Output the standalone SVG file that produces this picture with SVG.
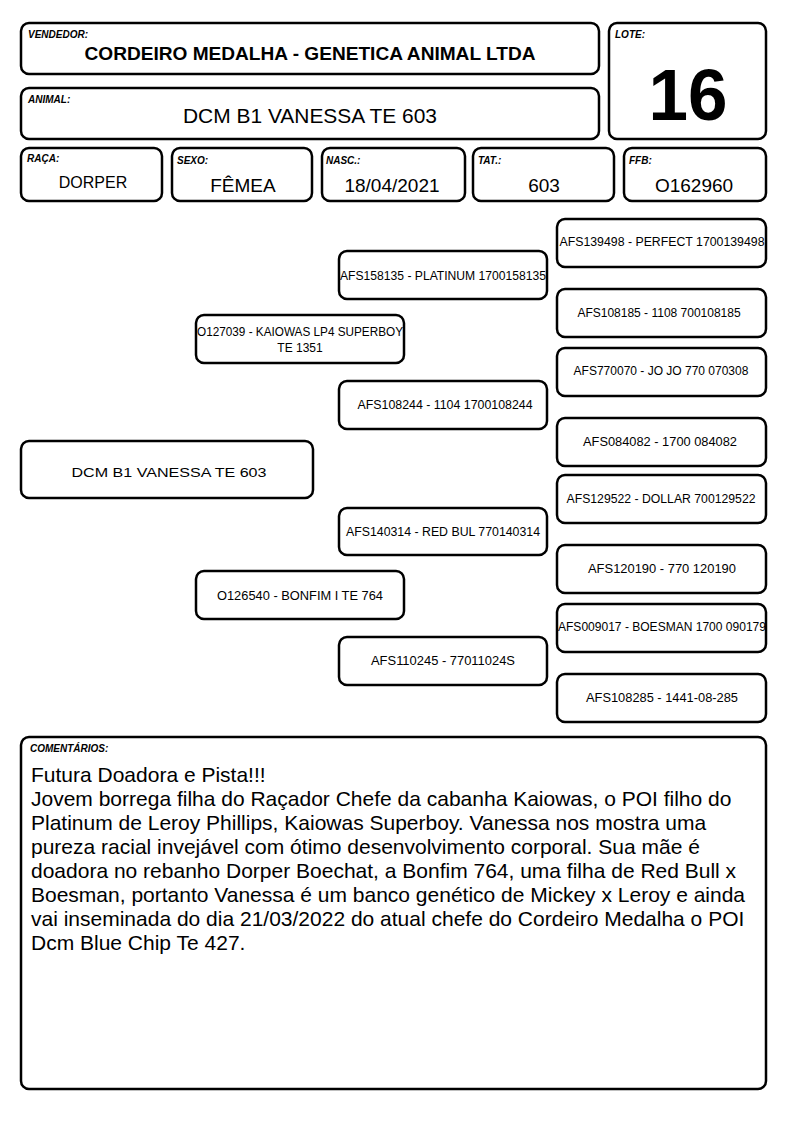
<svg xmlns="http://www.w3.org/2000/svg" width="794" height="1123" viewBox="0 0 794 1123">
<style>
rect{fill:#fff;stroke:#000;stroke-width:2.5}
text{font-family:"Liberation Sans",Arial,sans-serif;fill:#000}
.lbl{font-size:10px;font-weight:bold;font-style:italic}
.ped{font-size:12px;text-anchor:middle}
.val{text-anchor:middle}
.cm{font-size:21px}
</style>
<rect x="0" y="0" width="794" height="1123" style="fill:#fff;stroke:none"/>
<g id="vendedor"><rect x="21" y="23" width="578" height="51" rx="8"/><text class="lbl" x="28" y="38">VENDEDOR:</text><text x="310" y="60" font-size="19" font-weight="bold" text-anchor="middle" textLength="451" lengthAdjust="spacingAndGlyphs">CORDEIRO MEDALHA - GENETICA ANIMAL LTDA</text></g>
<g id="lote"><rect x="609" y="23" width="157" height="116" rx="8"/><text class="lbl" x="615" y="38">LOTE:</text><text x="688" y="120" font-size="72" font-weight="bold" text-anchor="middle" textLength="79" lengthAdjust="spacingAndGlyphs">16</text></g>
<g id="animal"><rect x="21" y="88" width="578" height="51" rx="8"/><text class="lbl" x="28" y="103">ANIMAL:</text><text x="310" y="123" font-size="21" text-anchor="middle" textLength="254" lengthAdjust="spacingAndGlyphs">DCM B1 VANESSA TE 603</text></g>
<g id="raca"><rect x="21" y="148" width="141" height="53" rx="8"/><text class="lbl" x="27" y="162">RAÇA:</text><text class="val" x="93" y="188" font-size="16">DORPER</text></g>
<g id="sexo"><rect x="172" y="148" width="140" height="53" rx="8"/><text class="lbl" x="177" y="164">SEXO:</text><text class="val" x="243" y="192" font-size="19">FÊMEA</text></g>
<g id="nasc"><rect x="322" y="148" width="143" height="53" rx="8"/><text class="lbl" x="326" y="164">NASC.:</text><text class="val" x="392" y="192" font-size="19">18/04/2021</text></g>
<g id="tat"><rect x="473" y="148" width="141" height="53" rx="8"/><text class="lbl" x="478" y="164">TAT.:</text><text class="val" x="544" y="192" font-size="19">603</text></g>
<g id="ffb"><rect x="624" y="148" width="142" height="53" rx="8"/><text class="lbl" x="629" y="164">FFB:</text><text class="val" x="694" y="192" font-size="19">O162960</text></g>

<g id="p-main"><rect x="21" y="441" width="292" height="57" rx="8"/><text class="ped" x="169" y="477" font-size="18" textLength="195" lengthAdjust="spacingAndGlyphs">DCM B1 VANESSA TE 603</text></g>
<g id="p-sire"><rect x="196" y="315" width="208" height="48" rx="8"/><text class="ped" x="300" y="336" textLength="206" lengthAdjust="spacingAndGlyphs">O127039 - KAIOWAS LP4 SUPERBOY</text><text class="ped" x="300" y="352">TE 1351</text></g>
<g id="p-ss"><rect x="339" y="251" width="208" height="48" rx="8"/><text class="ped" x="443" y="280" textLength="206" lengthAdjust="spacingAndGlyphs">AFS158135 - PLATINUM 1700158135</text></g>
<g id="p-sd"><rect x="339" y="381" width="208" height="48" rx="8"/><text class="ped" x="445" y="409" textLength="175" lengthAdjust="spacingAndGlyphs">AFS108244 - 1104 1700108244</text></g>
<g id="p-sss"><rect x="557" y="219" width="209" height="48" rx="8"/><text class="ped" x="662" y="246" textLength="205" lengthAdjust="spacingAndGlyphs">AFS139498 - PERFECT 1700139498</text></g>
<g id="p-ssd"><rect x="557" y="289" width="209" height="48" rx="8"/><text class="ped" x="659" y="317">AFS108185 - 1108 700108185</text></g>
<g id="p-sds"><rect x="557" y="348" width="209" height="48" rx="8"/><text class="ped" x="661" y="375">AFS770070 - JO JO 770 070308</text></g>
<g id="p-sdd"><rect x="557" y="418" width="209" height="48" rx="8"/><text class="ped" x="660" y="446" font-size="13" textLength="154" lengthAdjust="spacingAndGlyphs">AFS084082 - 1700 084082</text></g>
<g id="p-dam"><rect x="196" y="571" width="208" height="48" rx="8"/><text class="ped" x="300" y="600" font-size="13" textLength="166" lengthAdjust="spacingAndGlyphs">O126540 - BONFIM I TE 764</text></g>
<g id="p-ds"><rect x="339" y="508" width="208" height="47" rx="8"/><text class="ped" x="443" y="536" textLength="194" lengthAdjust="spacingAndGlyphs">AFS140314 - RED BUL 770140314</text></g>
<g id="p-dd"><rect x="339" y="637" width="208" height="48" rx="8"/><text class="ped" x="443" y="665" font-size="13" textLength="144" lengthAdjust="spacingAndGlyphs">AFS110245 - 77011024S</text></g>
<g id="p-dss"><rect x="557" y="475" width="209" height="48" rx="8"/><text class="ped" x="661" y="503" textLength="189" lengthAdjust="spacingAndGlyphs">AFS129522 - DOLLAR 700129522</text></g>
<g id="p-dsd"><rect x="557" y="545" width="209" height="48" rx="8"/><text class="ped" x="662" y="573" font-size="13" textLength="148" lengthAdjust="spacingAndGlyphs">AFS120190 - 770 120190</text></g>
<g id="p-dds"><rect x="557" y="604" width="209" height="48" rx="8"/><text class="ped" x="662" y="631" textLength="208" lengthAdjust="spacingAndGlyphs">AFS009017 - BOESMAN 1700 090179</text></g>
<g id="p-ddd"><rect x="557" y="674" width="209" height="48" rx="8"/><text class="ped" x="662" y="702" font-size="13" textLength="152" lengthAdjust="spacingAndGlyphs">AFS108285 - 1441-08-285</text></g>

<g id="connectors"></g>

<g id="comentarios"><rect x="21" y="737" width="745" height="352" rx="8"/><text class="lbl" x="30" y="752">COMENTÁRIOS:</text>
<text class="cm" x="31" y="782">Futura Doadora e Pista!!!</text>
<text class="cm" x="31" y="806">Jovem borrega filha do Raçador Chefe da cabanha Kaiowas, o POI filho do</text>
<text class="cm" x="31" y="830">Platinum de Leroy Phillips, Kaiowas Superboy. Vanessa nos mostra uma</text>
<text class="cm" x="31" y="854">pureza racial invejável com ótimo desenvolvimento corporal. Sua mãe é</text>
<text class="cm" x="31" y="878">doadora no rebanho Dorper Boechat, a Bonfim 764, uma filha de Red Bull x</text>
<text class="cm" x="31" y="902">Boesman, portanto Vanessa é um banco genético de Mickey x Leroy e ainda</text>
<text class="cm" x="31" y="926">vai inseminada do dia 21/03/2022 do atual chefe do Cordeiro Medalha o POI</text>
<text class="cm" x="31" y="950">Dcm Blue Chip Te 427.</text>
</g>
</svg>
